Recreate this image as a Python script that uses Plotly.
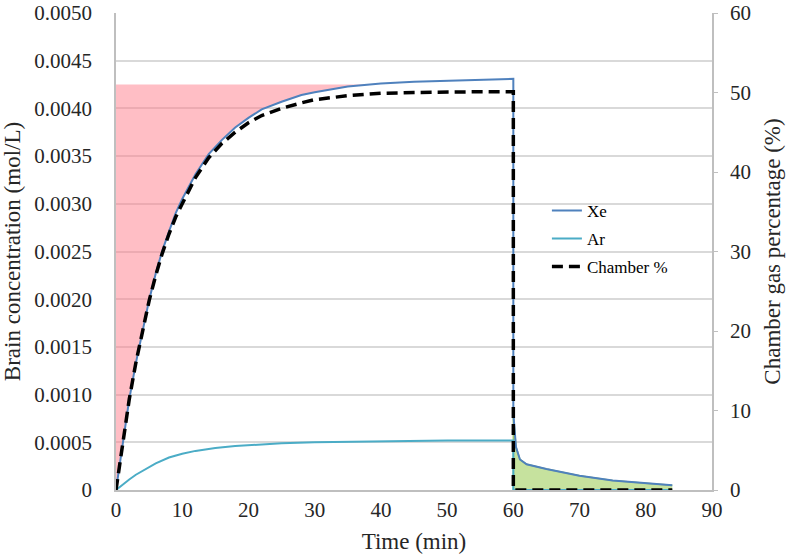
import plotly.graph_objects as go

# Xe brain concentration (mol/L)
xe_t = [0, 1, 2, 3, 4, 5, 6, 7, 8, 9, 10, 12, 14, 16, 18, 20, 22, 25, 28, 30, 35, 38,
        40, 45, 50, 55, 60, 60, 60.4, 61, 62, 65, 70, 75, 80, 84]
xe_c = [0, 0.00050, 0.00095, 0.00133, 0.00167, 0.00199, 0.00227, 0.00251, 0.00271,
        0.00290, 0.00305, 0.00331, 0.00352, 0.00367, 0.00380, 0.00390, 0.00399,
        0.00407, 0.00414, 0.00417, 0.00423, 0.00425, 0.00426, 0.00428, 0.00429,
        0.00430, 0.00431, 0.00080, 0.00045, 0.00032, 0.00027, 0.00022, 0.00015,
        0.00010, 0.00007, 0.00005]

# Ar brain concentration (mol/L)
ar_t = [0, 1, 2, 3, 4, 5, 6, 8, 10, 12, 15, 18, 20, 25, 30, 40, 50, 60, 60, 84]
ar_c = [0, 0.00006, 0.00011, 0.00016, 0.00020, 0.00024, 0.00028, 0.00034, 0.00038,
        0.00041, 0.00044, 0.00046, 0.00047, 0.00049, 0.00050, 0.00051, 0.00052,
        0.00052, 0, 0]

# chamber gas percentage (%)
ch_t = [0, 1, 2, 3, 4, 5, 6, 7, 8, 9, 10, 12, 14, 16, 18, 20, 22, 25, 28, 30, 35, 40,
        45, 50, 55, 60, 60, 84]
ch_p = [0, 6.0, 11.4, 16.0, 20.0, 23.8, 27.0, 29.8, 32.2, 34.3, 36.0, 39.3, 41.8,
        43.6, 45.0, 46.2, 47.1, 48.0, 48.7, 49.1, 49.6, 49.9, 50.0, 50.1, 50.1, 50.1,
        0, 0]

pink_level = 0.00425
pink_end = 38
green_start = 60

y_ticks = [0, 0.0005, 0.0010, 0.0015, 0.0020, 0.0025, 0.0030, 0.0035, 0.0040, 0.0045, 0.0050]
y_text = ["0", "0.0005", "0.0010", "0.0015", "0.0020", "0.0025", "0.0030", "0.0035",
          "0.0040", "0.0045", "0.0050"]
x_ticks = [0, 10, 20, 30, 40, 50, 60, 70, 80, 90]
y2_ticks = [0, 10, 20, 30, 40, 50, 60]

serif = "Liberation Serif"
grey = "#bfbfbf"

pink_x = [t for t in xe_t if t <= pink_end]
pink_y = [c for t, c in zip(xe_t, xe_c) if t <= pink_end]

n_green = xe_t.index(green_start) + 1
green_x = xe_t[n_green:]
green_y = xe_c[n_green:]

fig = go.Figure()

fig.add_trace(go.Scatter(x=pink_x, y=[pink_level] * len(pink_x), mode="lines",
                         line=dict(width=0), showlegend=False, hoverinfo="skip",
                         legendgroup="fill"))
fig.add_trace(go.Scatter(x=pink_x, y=pink_y, mode="lines", line=dict(width=0),
                         fill="tonexty", fillcolor="rgba(255,125,140,0.5)",
                         showlegend=False, hoverinfo="skip", legendgroup="fill"))
fig.add_trace(go.Scatter(x=[green_start] + green_x, y=[0] + green_y, mode="lines",
                         line=dict(width=1.5, color="#9cc26a"), fill="tozeroy",
                         fillcolor="#c6e29e", showlegend=False, hoverinfo="skip",
                         legendgroup="fill"))

fig.add_trace(go.Scatter(x=xe_t, y=xe_c, name="Xe", mode="lines", legendgroup="xe",
                         line=dict(color="#4f81bd", width=2)))
fig.add_trace(go.Scatter(x=ar_t, y=ar_c, name="Ar", mode="lines", legendgroup="ar",
                         line=dict(color="#4bacc6", width=2)))
fig.add_trace(go.Scatter(x=ch_t, y=ch_p, name="Chamber %", mode="lines", yaxis="y2",
                         legendgroup="ch",
                         line=dict(color="black", width=3.5, dash="11px,6px")))

fig.update_layout(
    width=788, height=556,
    margin=dict(l=116, r=76, t=13, b=66),
    paper_bgcolor="white", plot_bgcolor="white",
    font=dict(family=serif, color="#262626", size=21),
    xaxis=dict(range=[0, 90], tickvals=x_ticks, showgrid=False, zeroline=False,
               showline=True, linecolor=grey, linewidth=1.5, ticks="",
               ticklabelstandoff=0, automargin=False,
               title=dict(text="Time (min)", font=dict(size=23), standoff=12)),
    yaxis=dict(range=[0, 0.005], tickvals=y_ticks, ticktext=y_text, showgrid=True,
               gridcolor="#d9d9d9", gridwidth=1.5, zeroline=False, showline=True,
               linecolor=grey, linewidth=1.5, ticks="", ticklabelstandoff=18,
               automargin=False,
               title=dict(text="Brain concentration (mol/L)", font=dict(size=23),
                          standoff=14)),
    yaxis2=dict(range=[0, 60], tickvals=y2_ticks, overlaying="y", side="right",
                showgrid=False, zeroline=False, showline=True, linecolor=grey,
                linewidth=1.5, ticks="outside", ticklen=4, tickcolor=grey,
                ticklabelstandoff=8, automargin=False,
                title=dict(text="Chamber gas percentage (%)", font=dict(size=23),
                           standoff=14)),
    legend=dict(x=0.723, y=0.623, xanchor="left", yanchor="top", traceorder="grouped",
                font=dict(family=serif, size=17, color="black"),
                bgcolor="rgba(0,0,0,0)", itemwidth=30, tracegroupgap=3),
)

# drop the page's default body margin so the figure sits at the window corner
fig.write_html("out.html", config={"displayModeBar": False},
               post_script="document.body.style.margin = '0px';")
